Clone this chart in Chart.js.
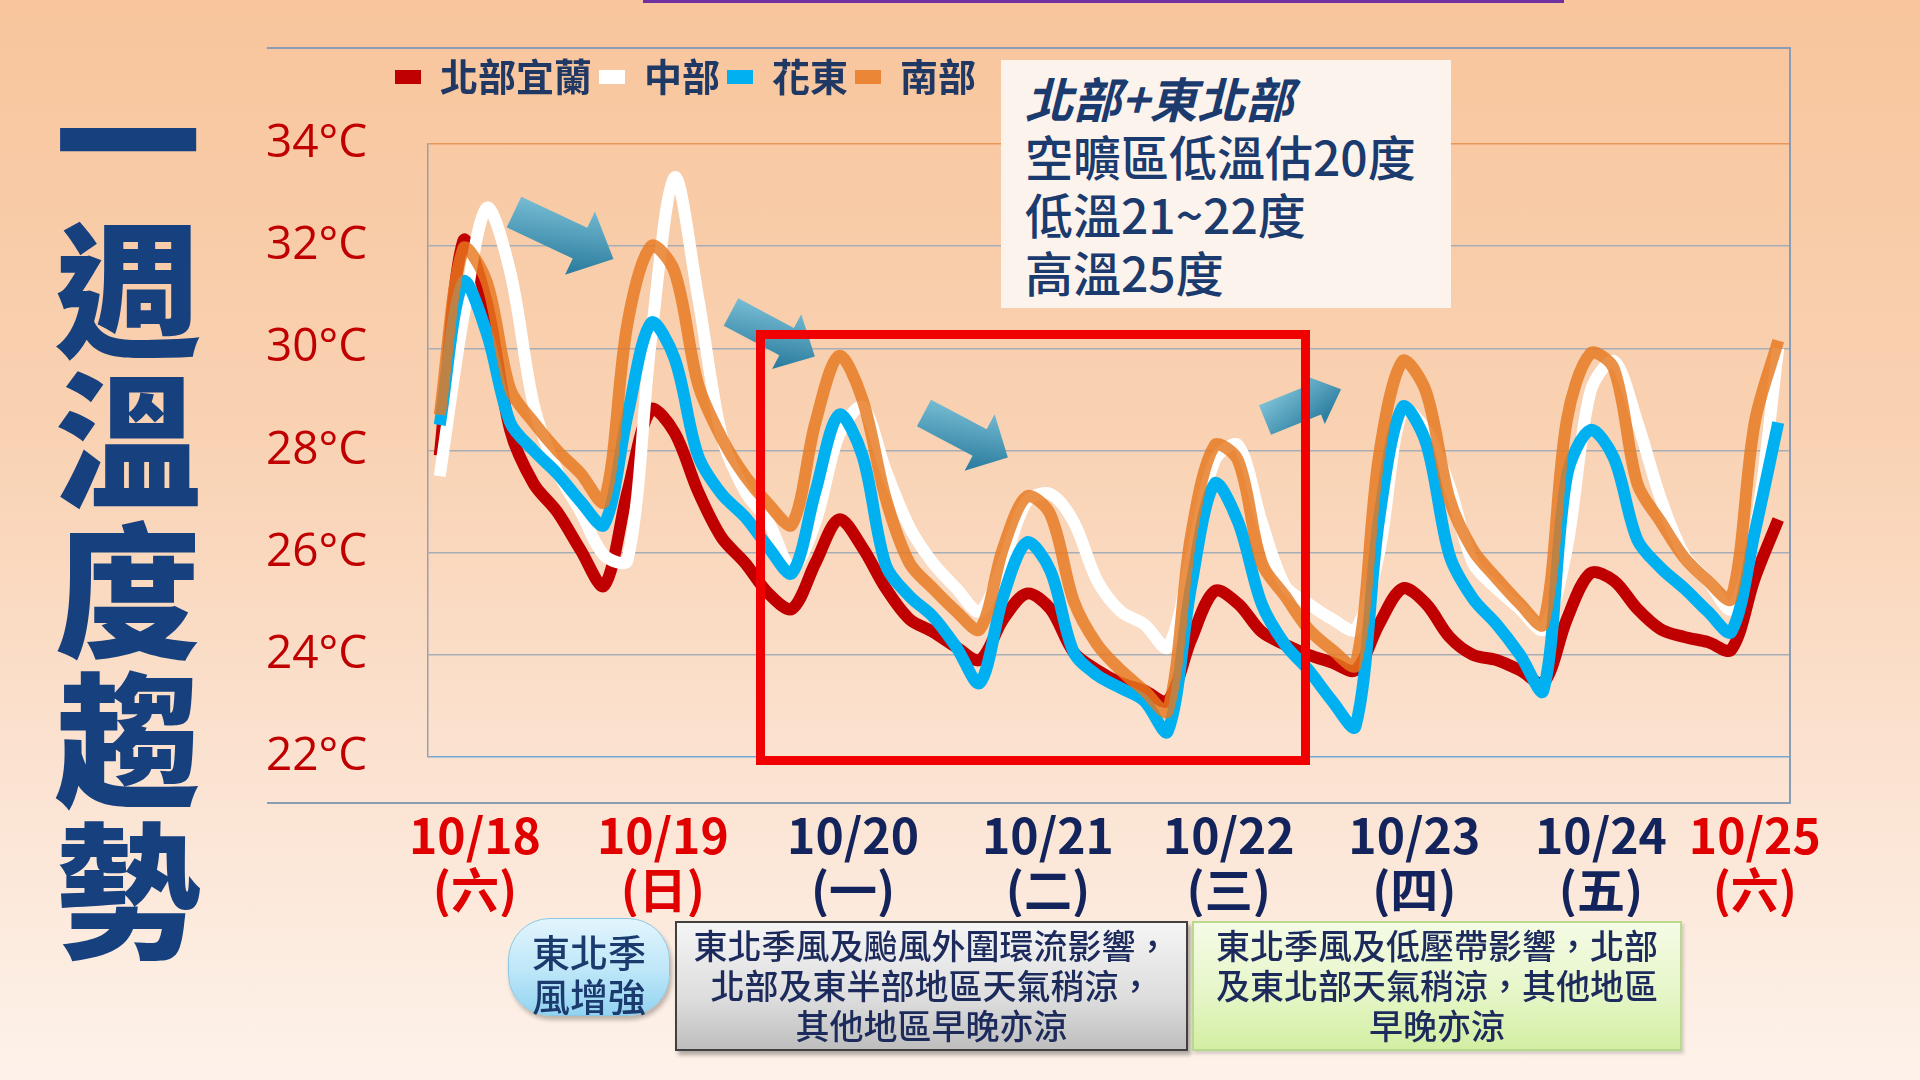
<!DOCTYPE html>
<html lang="zh-Hant">
<head>
<meta charset="utf-8">
<title>一週溫度趨勢</title>
<script src="https://cdn.jsdelivr.net/npm/chart.js@4.4.1/dist/chart.umd.min.js"></script>
<style>
html, body { margin: 0; padding: 0; }
body {
  width: 1920px; height: 1080px; position: relative; overflow: hidden;
  background: linear-gradient(180deg, #F8C59C 0%, #F9D2B3 40%, #FBE2D0 70%, #FDF2EA 100%);
  font-family: "Noto Sans CJK TC", sans-serif;
}
.abs { position: absolute; box-sizing: border-box; }
#chart { position: absolute; left: 0; top: 0; }
#topbar { left: 643px; top: 0; width: 921px; height: 3px; background: #7030A0; }
#frame { left: 267px; top: 47px; width: 1524px; height: 757px; border: 2px solid #8A9CB4; border-left: none; }
#title { left: 53px; top: 58px; width: 150px; font-size: 146px; line-height: 150px; font-weight: 900;
  color: #17407F; text-align: center; word-break: break-all; }
#note { left: 1001px; top: 60px; width: 450px; height: 248px; padding: 8px 0 0 24px; background: #FCF3EC;
  color: #1B3A6E; font-size: 48px; line-height: 58px; font-weight: 500; }
#note b { font-style: italic; font-weight: 700; }
#redbox { left: 756px; top: 330px; width: 554px; height: 435px; border: 9px solid #F00000; }
#bubble { left: 508px; top: 918px; width: 162px; height: 98px; border-radius: 42px; padding-top: 10px;
  text-align: center; font-size: 38px; line-height: 44px; font-weight: 500; color: #1B3A6E;
  background: linear-gradient(180deg, #E2F5FD 0%, #BDE6F8 55%, #92D3F1 100%);
  border: 1px solid #8CC8E4; box-shadow: 2px 4px 4px rgba(0,0,0,0.25); }
.note2 { top: 921px; height: 130px; padding-top: 2px; text-align: center; font-size: 34px; line-height: 40px;
  font-weight: 500; color: #1C2A5C; }
#grey { left: 675px; width: 513px; border: 2px solid #404040;
  background: linear-gradient(180deg, #F5F5F5 0%, #DDDDDD 60%, #BEBEBE 100%);
  box-shadow: 3px 4px 4px rgba(0,0,0,0.3); }
#green { left: 1192px; width: 490px; border: 2px solid #B8DA8E;
  background: linear-gradient(180deg, #F5FBE6 0%, #E6F6C8 55%, #D3EEA3 100%);
  box-shadow: 2px 3px 3px rgba(0,0,0,0.15); }
</style>
</head>
<body>
<canvas id="chart" width="1920" height="1080"></canvas>
<div id="topbar" class="abs"></div>
<div id="frame" class="abs"></div>
<svg class="abs" style="left:0;top:0" width="1920" height="1080">
  <defs>
    <linearGradient id="arrowFill" x1="0" y1="0" x2="0.5" y2="1">
      <stop offset="0" stop-color="#8ACCE0"/>
      <stop offset="1" stop-color="#2D7EA0"/>
    </linearGradient>
  </defs>
  <polygon transform="translate(514,212) rotate(25.3)" fill="url(#arrowFill)" points="0,-17 73,-17 73,-35 110,0 73,35 73,17 0,17"/>
  <polygon transform="translate(731,312) rotate(28)" fill="url(#arrowFill)" points="0,-15.5 63,-15.5 63,-31 95,0 63,31 63,15.5 0,15.5"/>
  <polygon transform="translate(924,413) rotate(28)" fill="url(#arrowFill)" points="0,-15 63,-15 63,-32 95,0 63,32 63,15 0,15"/>
  <polygon transform="translate(1265,420) rotate(-22)" fill="url(#arrowFill)" points="0,-16 54,-16 54,-26 82,0 54,26 54,16 0,16"/>
</svg>
<div id="redbox" class="abs"></div>
<div id="title" class="abs">一週溫度趨勢</div>
<div id="note" class="abs"><b>北部+東北部</b><br>空曠區低溫估20度<br>低溫21~22度<br>高溫25度</div>
<div id="bubble" class="abs">東北季<br>風增強</div>
<div id="grey" class="abs note2">東北季風及颱風外圍環流影響，<br>北部及東半部地區天氣稍涼，<br>其他地區早晚亦涼</div>
<div id="green" class="abs note2">東北季風及低壓帶影響，北部<br>及東北部天氣稍涼，其他地區<br>早晚亦涼</div>
<script>
// day labels under the chart
const days = ['10/18', '10/19', '10/20', '10/21', '10/22', '10/23', '10/24', '10/25'];
const weekdays = ['(六)', '(日)', '(一)', '(二)', '(三)', '(四)', '(五)', '(六)'];
const dayColors = ['#E00000', '#E00000', '#13235B', '#13235B', '#13235B', '#13235B', '#13235B', '#E00000'];
const dayTickPos = [1.5, 9.5, 17.6, 25.9, 33.6, 41.5, 49.45, 56];
const hourSteps = ['08', '11', '14', '17', '20', '23', '02', '05'];

// 3-hourly temperatures (°C)
const north = [27.9, 32.1, 30.9, 28.4, 27.35, 26.8, 26.05, 25.35, 27.2, 28.8,
  28.35, 27.2, 26.3, 25.8, 25.2, 24.9, 25.8, 26.65, 26.1, 25.3,
  24.7, 24.45, 24.15, 23.9, 24.7, 25.2, 24.9, 24.05, 23.7, 23.45,
  23.3, 23.1, 24.3, 25.25, 25.0, 24.45, 24.2, 24.0, 23.85, 23.7,
  24.6, 25.3, 25.0, 24.35, 24.0, 23.9, 23.7, 23.45, 24.7, 25.6,
  25.45, 24.9, 24.5, 24.35, 24.25, 24.1, 25.5, 26.65];
const central = [27.5, 30.6, 32.75, 31.5, 28.9, 27.6, 26.8, 25.95, 25.85, 30.2,
  33.35, 31.0, 28.3, 27.2, 26.6, 25.7, 26.6, 28.3, 28.85, 27.6,
  26.5, 25.8, 25.3, 24.85, 25.8, 27.0, 27.15, 26.6, 25.45, 24.85,
  24.6, 24.15, 25.9, 27.8, 28.1, 26.6, 25.35, 25.0, 24.7, 24.5,
  26.0, 28.8, 28.4, 27.3, 25.8, 25.3, 24.9, 24.5, 26.1, 29.15,
  29.75, 28.55, 27.05, 25.95, 25.45, 24.9, 26.4, 30.0];
const east = [28.5, 31.3, 30.3, 28.55, 28.0, 27.55, 27.0, 26.55, 28.7, 30.5,
  29.8, 27.9, 27.15, 26.7, 26.1, 25.6, 27.2, 28.7, 27.9, 25.75,
  25.15, 24.75, 24.15, 23.45, 25.15, 26.2, 25.65, 24.05, 23.6, 23.35,
  23.1, 22.5, 25.35, 27.35, 26.6, 25.0, 24.2, 23.7, 23.1, 22.6,
  26.65, 28.85, 28.15, 25.95, 25.1, 24.6, 24.0, 23.3, 27.5, 28.4,
  27.85, 26.25, 25.7, 25.3, 24.85, 24.45, 26.4, 28.55];
const south = [28.7, 31.95, 31.3, 29.2, 28.55, 28.0, 27.55, 27.0, 30.5, 32.0,
  31.5, 29.3, 28.25, 27.5, 26.95, 26.55, 28.55, 29.85, 29.0, 27.05,
  25.8, 25.3, 24.85, 24.5, 26.1, 27.1, 26.75, 25.05, 24.2, 23.7,
  23.3, 22.9, 26.35, 28.1, 27.8, 25.8, 25.15, 24.5, 24.1, 23.8,
  27.9, 29.75, 29.15, 27.05, 26.05, 25.5, 25.0, 24.6, 28.6, 29.9,
  29.6, 27.35, 26.6, 25.9, 25.45, 25.1, 28.55, 30.15];

const times = north.map((v, i) => {
  const d = Math.floor((8 + 3 * i) / 24);
  return '10/' + (18 + d) + ' ' + hourSteps[i % 8] + '時';
});

function series(label, data, color, order) {
  return {
    label: label, data: data, order: order,
    borderColor: color, backgroundColor: color,
    borderWidth: 12, pointRadius: 0, tension: 0.32,
    borderJoinStyle: 'round', fill: false,
    xAxisID: 'x', yAxisID: 'y'
  };
}

function gridColor(ctx) {
  if (ctx.tick.value === 34) return '#E8955A';
  if (ctx.tick.value === 22) return '#74A7D4';
  return '#A6ADB7';
}

const ctx = document.getElementById('chart').getContext('2d');
let myChart = new Chart(ctx, {
  type: 'line',
  data: {
    labels: times,
    datasets: [
      series('北部宜蘭', north, '#C00000', 4),
      series('中部', central, '#FFFFFF', 3),
      series('花東', east, '#00B0F0', 2),
      series('南部', south, 'rgba(230,120,30,0.82)', 1)
    ]
  },
  options: {
    responsive: false,
    animation: false,
    layout: { padding: { left: 388, right: 130, top: 51, bottom: 163 } },
    scales: {
      x: { type: 'category', display: false, offset: true },
      xd: {
        type: 'linear', position: 'bottom', min: -0.5, max: 57.5,
        grid: { display: false, drawTicks: false },
        border: { display: false },
        afterBuildTicks: s => { s.ticks = dayTickPos.map(v => ({ value: v })); },
        afterFit: s => { s.height = 160; },
        ticks: {
          autoSkip: false, maxRotation: 0, minRotation: 0, padding: 52,
          color: c => dayColors[c.index],
          font: { family: '"Noto Sans CJK TC", sans-serif', size: 48, weight: 'bold', lineHeight: 1.125 },
          callback: (v, i) => [days[i], weekdays[i]]
        }
      },
      y: {
        min: 22, max: 34,
        afterFit: s => { s.width = 40; },
        grid: { drawTicks: false, color: gridColor, lineWidth: 1.5 },
        border: { display: true, color: '#99A0AB', width: 1.5 },
        ticks: {
          // labels sit well left of the axis, start-aligned at x = 266
          mirror: true, padding: -162,
          stepSize: 2, color: '#C00000',
          font: { family: '"Open Sans", "Noto Sans", sans-serif', size: 46 },
          callback: v => v + '°C'
        }
      }
    },
    plugins: {
      tooltip: { enabled: false },
      title: { display: true, text: '', padding: { top: 28, bottom: 0 }, font: { size: 10, lineHeight: 1 } },
      legend: {
        position: 'top', align: 'start', weight: 3000,
        labels: {
          boxWidth: 26, boxHeight: 14, padding: 7, color: '#1F3864',
          font: { family: '"Noto Sans CJK TC", sans-serif', size: 38, weight: 'bold' },
          sort: (a, b) => a.datasetIndex - b.datasetIndex,
          generateLabels: chart => {
            const items = Chart.defaults.plugins.legend.labels.generateLabels(chart);
            items.forEach(it => { it.fillStyle = it.strokeStyle; it.lineWidth = 0; });
            return items;
          }
        }
      }
    }
  }
});
</script>
</body>
</html>
